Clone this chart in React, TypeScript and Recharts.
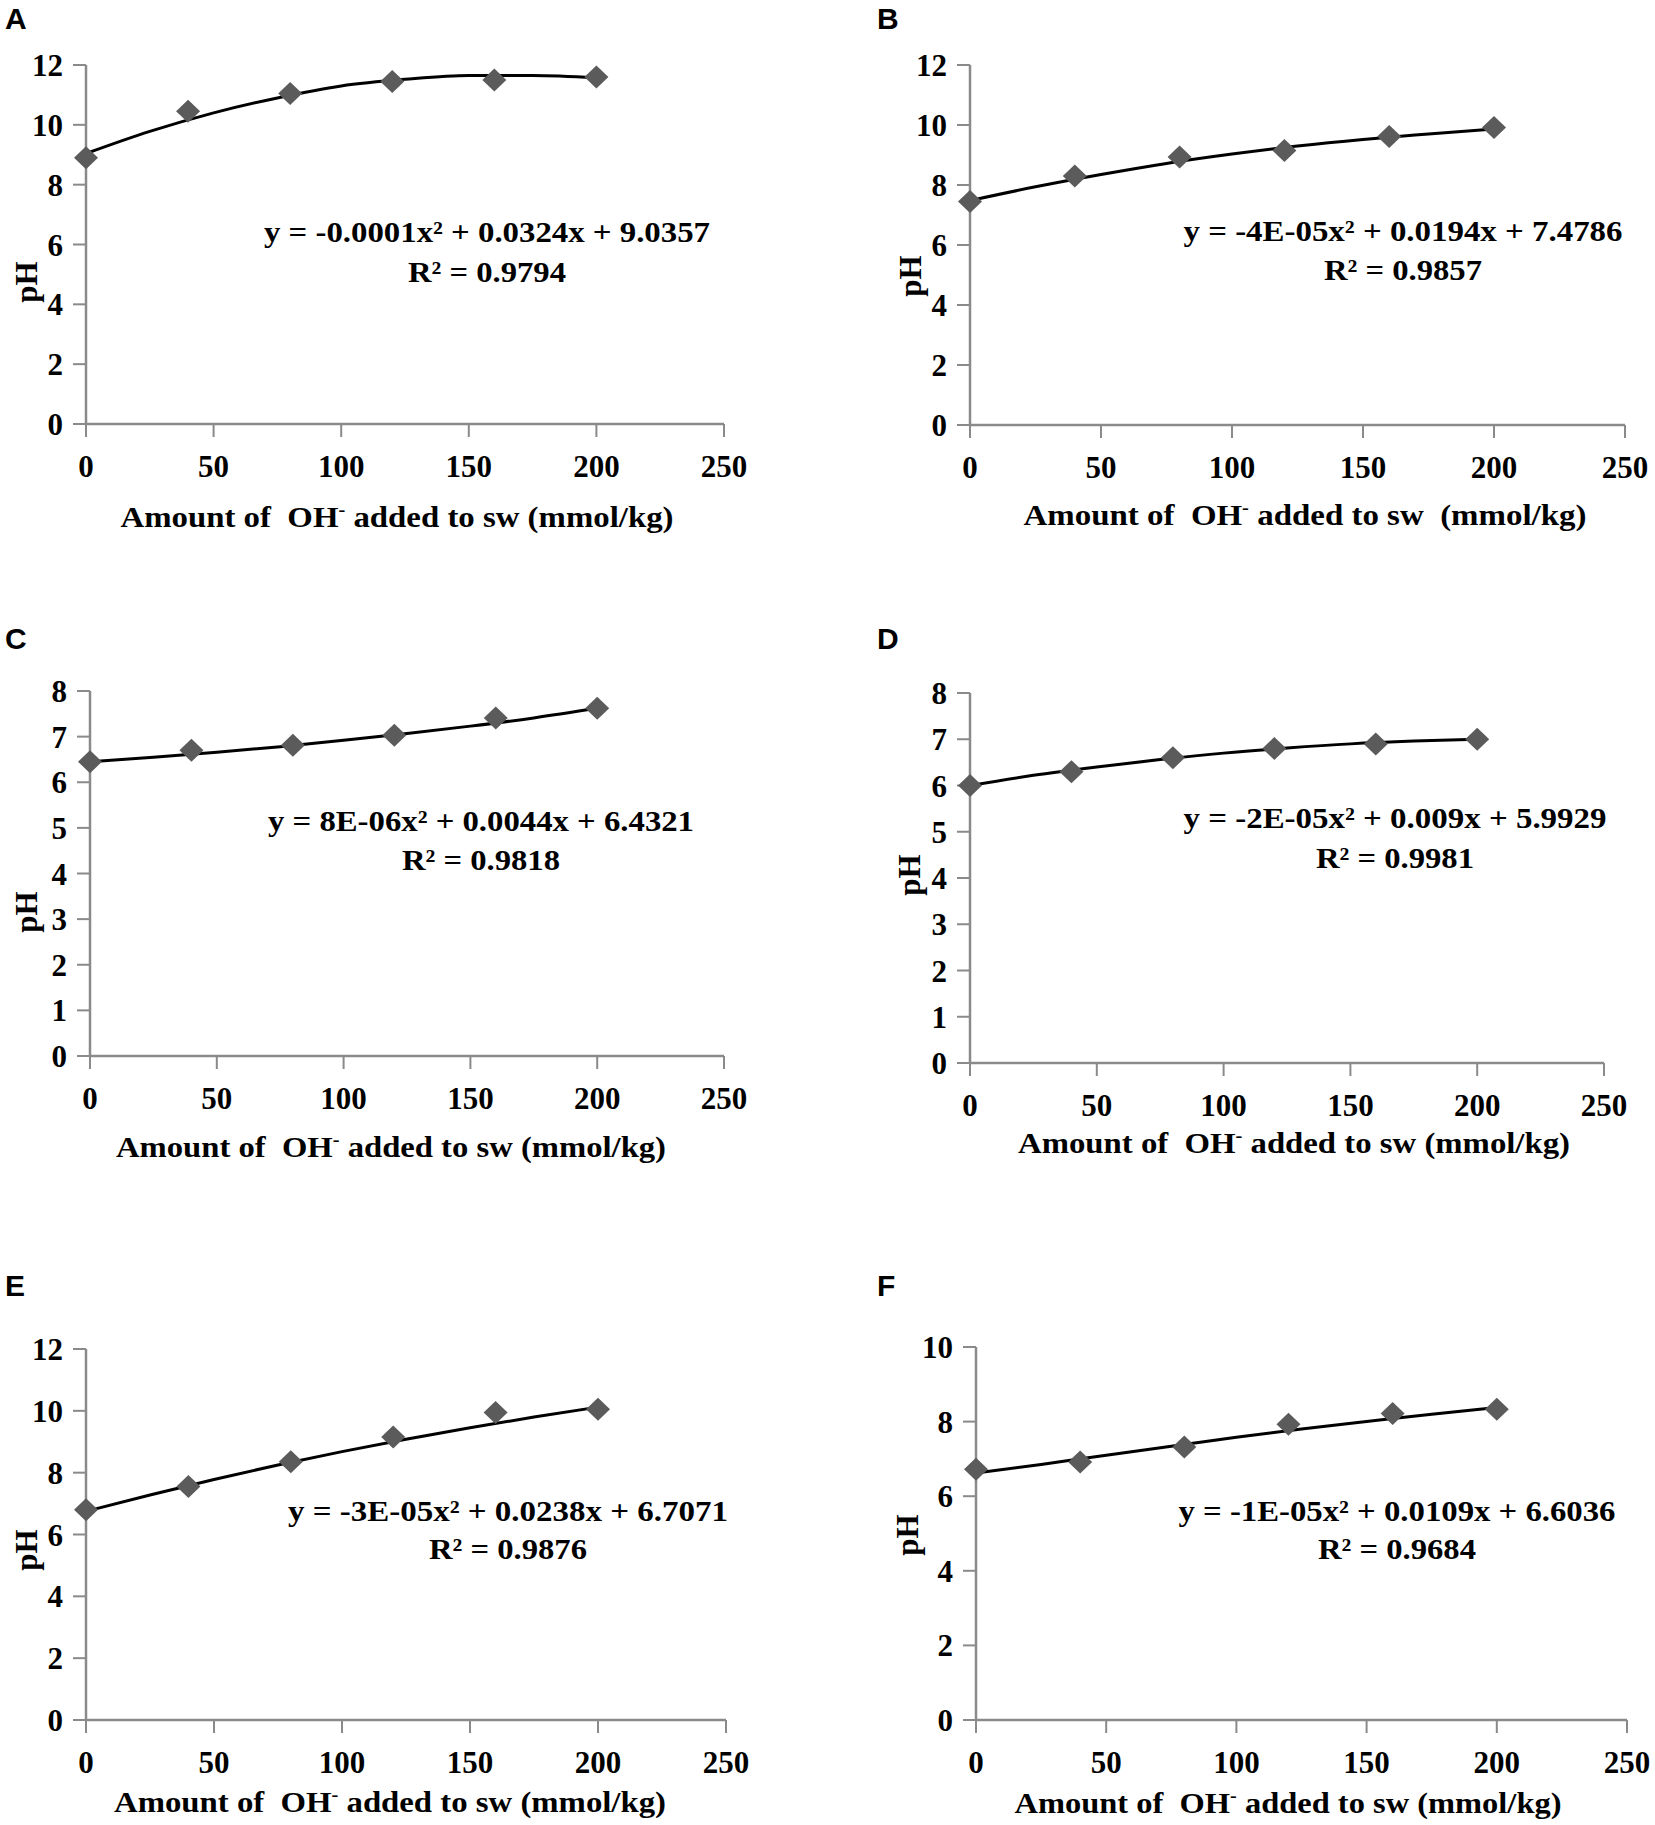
import React from 'react';
import { ComposedChart, Scatter, Line, XAxis, YAxis } from 'recharts';

// measured points (pH vs OH- added)
const xValues = [0, 40, 80, 120, 160, 200];
const phA = [8.9, 10.45, 11.05, 11.45, 11.5, 11.6];
const phB = [7.45, 8.3, 8.93, 9.15, 9.62, 9.92];
const phC = [6.45, 6.7, 6.81, 7.03, 7.41, 7.62];
const phD = [6.0, 6.3, 6.6, 6.8, 6.9, 7.0];
const phE = [6.8, 7.55, 8.35, 9.15, 9.95, 10.05];
const phF = [6.72, 6.92, 7.32, 7.93, 8.22, 8.33];

// trend lines
const trendX = [0, 25, 50, 75, 100, 125, 150, 175, 200];
const trendA = [9.04, 9.78, 10.4, 10.9, 11.3, 11.52, 11.65, 11.65, 11.57];
const trendB = [7.48, 7.94, 8.35, 8.72, 9.03, 9.3, 9.52, 9.7, 9.87];
const trendC = [6.45, 6.55, 6.66, 6.78, 6.92, 7.07, 7.23, 7.41, 7.62];
const trendD = [6.0, 6.22, 6.4, 6.56, 6.7, 6.81, 6.9, 6.96, 7.0];
const trendE = [6.75, 7.28, 7.78, 8.25, 8.68, 9.08, 9.45, 9.8, 10.12];
const trendF = [6.62, 6.85, 7.1, 7.34, 7.58, 7.8, 8.0, 8.2, 8.38];

const xTicks = [0, 50, 100, 150, 200, 250];
const yTicks12 = [0, 2, 4, 6, 8, 10, 12];
const yTicks8 = [0, 1, 2, 3, 4, 5, 6, 7, 8];
const yTicks10 = [0, 2, 4, 6, 8, 10];

const letters = ['A', 'B', 'C', 'D', 'E', 'F'];
const equations = [
  'y = -0.0001x² + 0.0324x + 9.0357',
  'y = -4E-05x² + 0.0194x + 7.4786',
  'y = 8E-06x² + 0.0044x + 6.4321',
  'y = -2E-05x² + 0.009x + 5.9929',
  'y = -3E-05x² + 0.0238x + 6.7071',
  'y = -1E-05x² + 0.0109x + 6.6036',
];
const rSquared = ['R² = 0.9794', 'R² = 0.9857', 'R² = 0.9818', 'R² = 0.9981', 'R² = 0.9876', 'R² = 0.9684'];
const titleTail = [' added to sw (mmol/kg)', ' added to sw  (mmol/kg)', ' added to sw (mmol/kg)',
  ' added to sw (mmol/kg)', ' added to sw (mmol/kg)', ' added to sw (mmol/kg)'];

const serif = "'Liberation Serif', 'Times New Roman', serif";
const sans = "'Liberation Sans', Arial, sans-serif";
const axisGrey = '#8a8a8a';

// page geometry of each panel
const layout = [
  { left: 86, right: 724, top: 65, bottom: 424, letterX: 5, letterY: 29, eqX: 487, eqY: 232, eqW: 446, r2Y: 272,
    titleX: 397, titleY: 517, titleW: 553, phX: 26, phY: 282 },
  { left: 970, right: 1625, top: 65, bottom: 425, letterX: 877, letterY: 29, eqX: 1403, eqY: 231, eqW: 439, r2Y: 270,
    titleX: 1305, titleY: 515, titleW: 563, phX: 910, phY: 276 },
  { left: 90, right: 724, top: 691, bottom: 1056, letterX: 5, letterY: 649, eqX: 481, eqY: 821, eqW: 426, r2Y: 860,
    titleX: 391, titleY: 1147, titleW: 550, phX: 26, phY: 912 },
  { left: 970, right: 1604, top: 693, bottom: 1063, letterX: 877, letterY: 649, eqX: 1395, eqY: 818, eqW: 423, r2Y: 858,
    titleX: 1294, titleY: 1143, titleW: 552, phX: 909, phY: 875 },
  { left: 86, right: 726, top: 1349, bottom: 1720, letterX: 5, letterY: 1296, eqX: 508, eqY: 1511, eqW: 440, r2Y: 1549,
    titleX: 390, titleY: 1802, titleW: 552, phX: 26, phY: 1550 },
  { left: 976, right: 1627, top: 1347, bottom: 1720, letterX: 877, letterY: 1296, eqX: 1397, eqY: 1511, eqW: 437, r2Y: 1549,
    titleX: 1288, titleY: 1803, titleW: 547, phX: 907, phY: 1535 },
];

const toPoints = (xs: number[], ys: number[]) => xs.map((x, i) => ({ x, y: ys[i] }));

const series = [
  { points: toPoints(xValues, phA), trend: toPoints(trendX, trendA), yTicks: yTicks12 },
  { points: toPoints(xValues, phB), trend: toPoints(trendX, trendB), yTicks: yTicks12 },
  { points: toPoints(xValues, phC), trend: toPoints(trendX, trendC), yTicks: yTicks8 },
  { points: toPoints(xValues, phD), trend: toPoints(trendX, trendD), yTicks: yTicks8 },
  { points: toPoints(xValues, phE), trend: toPoints(trendX, trendE), yTicks: yTicks12 },
  { points: toPoints(xValues, phF), trend: toPoints(trendX, trendF), yTicks: yTicks10 },
];

const Diamond = (props: any) => {
  const { cx, cy } = props;
  if (cx == null || cy == null) return null;
  const rx = 12;
  const ry = 11.5;
  return <path d={`M${cx},${cy - ry}L${cx + rx},${cy}L${cx},${cy + ry}L${cx - rx},${cy}Z`} fill="#5b5b5b" />;
};

const tickStyle = { fontFamily: serif, fontWeight: 'bold', fontSize: 31, fill: '#000' };

const YW = 90;
const MT = 20;
const MR = 40;
const XH = 70;

function Panel({ idx }: { idx: number }) {
  const g = layout[idx];
  const s = series[idx];
  const plotW = g.right - g.left;
  const plotH = g.bottom - g.top;
  const yMax = s.yTicks[s.yTicks.length - 1];
  return (
    <div style={{ position: 'absolute', left: g.left - YW, top: g.top - MT }}>
      <ComposedChart
        width={YW + plotW + MR}
        height={MT + plotH + XH}
        margin={{ top: MT, right: MR, bottom: 0, left: 0 }}
      >
        <XAxis
          type="number"
          dataKey="x"
          domain={[0, 250]}
          ticks={xTicks}
          interval={0}
          height={XH}
          tick={tickStyle}
          tickSize={13}
          tickMargin={18}
          axisLine={{ stroke: axisGrey, strokeWidth: 2.5 }}
          tickLine={{ stroke: axisGrey, strokeWidth: 2 }}
        />
        <YAxis
          type="number"
          domain={[0, yMax]}
          ticks={s.yTicks}
          interval={0}
          width={YW}
          tick={tickStyle}
          tickSize={13}
          tickMargin={10}
          axisLine={{ stroke: axisGrey, strokeWidth: 2.5 }}
          tickLine={{ stroke: axisGrey, strokeWidth: 2 }}
        />
        <Scatter data={s.points} dataKey="y" shape={Diamond} isAnimationActive={false} />
        <Line
          data={s.trend}
          dataKey="y"
          type="monotone"
          stroke="#000"
          strokeWidth={3}
          dot={false}
          activeDot={false}
          isAnimationActive={false}
        />
      </ComposedChart>
    </div>
  );
}

export default function App() {
  return (
    <div style={{ position: 'absolute', left: 0, top: 0, width: 1655, height: 1825, background: '#fff' }}>
      {layout.map((_, i) => (
        <Panel key={i} idx={i} />
      ))}
      <svg width={1655} height={1825} style={{ position: 'absolute', left: 0, top: 0, pointerEvents: 'none' }}>
        {layout.map((g, i) => (
          <g key={i} fontFamily={serif} fontWeight="bold" fill="#000">
            <text x={g.letterX} y={g.letterY} fontFamily={sans} fontSize={30} textAnchor="start">
              {letters[i]}
            </text>
            <text x={g.eqX} y={g.eqY + 10} fontSize={30} textAnchor="middle" textLength={g.eqW} lengthAdjust="spacingAndGlyphs">
              {equations[i]}
            </text>
            <text x={g.eqX} y={g.r2Y + 10} fontSize={30} textAnchor="middle" textLength={158} lengthAdjust="spacingAndGlyphs">
              {rSquared[i]}
            </text>
            <text
              x={g.titleX}
              y={g.titleY + 10}
              fontSize={29}
              textAnchor="middle"
              textLength={g.titleW}
              lengthAdjust="spacingAndGlyphs"
              style={{ whiteSpace: 'pre' }}
            >
              {'Amount of  OH'}
              <tspan fontSize={18} dy={-11}>-</tspan>
              <tspan dy={11}>{titleTail[i]}</tspan>
            </text>
            <text
              x={g.phX}
              y={g.phY}
              fontSize={31}
              textAnchor="middle"
              dominantBaseline="central"
              transform={`rotate(-90 ${g.phX} ${g.phY})`}
            >
              pH
            </text>
          </g>
        ))}
      </svg>
    </div>
  );
}
